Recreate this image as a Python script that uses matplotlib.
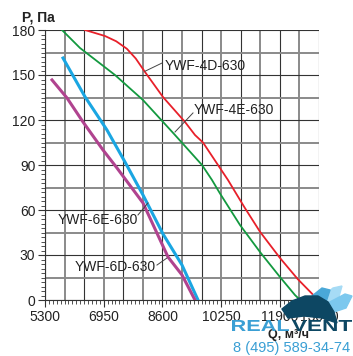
import numpy as np
import matplotlib.pyplot as plt
from matplotlib.patches import Polygon, PathPatch
from matplotlib.textpath import TextPath
from matplotlib.font_manager import FontProperties
from matplotlib.transforms import Affine2D

plt.rcParams['font.family'] = ['Liberation Sans', 'DejaVu Sans']

# Характеристики вентиляторів: Q (м3/ч) та P (Па)
q_4d = [6424, 6986, 7300, 7600, 7850, 8110, 8616, 9234, 9515, 9740, 10442, 10900, 11342, 11904, 12400, 12887, 13000]
p_4d = [180, 176, 172.5, 167.5, 161, 152, 135.3, 118.7, 110, 105, 80, 62, 45.5, 28, 14, 2.2, 0]

q_4e = [5778, 6284, 7267, 8054, 8953, 9712, 9993, 10218, 10780, 11342, 11904, 12325, 12470]
p_4e = [180, 168, 150, 133.3, 110, 90, 80, 71, 50, 32, 15.3, 3.3, 0]

q_6e = [5806, 6424, 7042, 7548, 8054, 8616, 9150, 9600]
p_6e = [161.3, 135.5, 113.3, 92, 70, 44, 23.3, 0]

q_6d = [5497, 5918, 6368, 6930, 7323, 8054, 8756, 9150, 9515]
p_6d = [146.7, 134.7, 118.7, 100, 88, 64.7, 28.7, 16.7, 0]

x_ticks = [5300, 6950, 8600, 10250, 11900, 13000]
y_ticks = [0, 30, 60, 90, 120, 150, 180]

fig = plt.figure(figsize=(3.53, 3.56), dpi=100)
ax = fig.add_axes([45/353, 56/356, 274/353, 270/356])
ax.set_xlim(5300, 13000)
ax.set_ylim(0, 180)

# сітка: через одну лінію сіра товща
for i, xv in enumerate(np.arange(5300, 13001, 550)):
    if i % 2:
        ax.axvline(xv, color='#8a8a8a', lw=1.4, zorder=1)
    else:
        ax.axvline(xv, color='#333333', lw=0.8, zorder=1)
for i, yv in enumerate(np.arange(0, 181, 15)):
    if i % 2:
        ax.axhline(yv, color='#8a8a8a', lw=1.4, zorder=1)
    else:
        ax.axhline(yv, color='#333333', lw=0.8, zorder=1)

ax.plot(q_4d, p_4d, color='#e8202a', lw=1.3, zorder=3)
ax.plot(q_4e, p_4e, color='#13993f', lw=1.3, zorder=3)
ax.plot(q_6e, p_6e, color='#1aa6e2', lw=2.2, zorder=3)
ax.plot(q_6d, p_6d, color='#b0438f', lw=2.2, zorder=3)

ax.set_xticks(x_ticks)
ax.set_yticks(y_ticks)
ax.set_xticks(np.arange(5300, 13001, 110), minor=True)
ax.set_yticks(np.arange(0, 181, 3), minor=True)
ax.tick_params(which='major', length=5, width=0.8, color='#333333', labelsize=10, labelcolor='#222222', pad=2)
ax.tick_params(which='minor', length=3, width=0.6, color='#333333')
for s in ['top', 'right']:
    ax.spines[s].set_visible(False)
for s in ['left', 'bottom']:
    ax.spines[s].set_color('#333333')
    ax.spines[s].set_linewidth(0.8)

# підписи кривих з виносками
lbl = dict(fontsize=10, color='#222222', va='center', zorder=5)
ax.text(8650, 156, 'YWF-4D-630', ha='left', **lbl)
ax.plot([8110, 8590], [152.5, 158], color='#444444', lw=0.7, zorder=4)
ax.text(9470, 127, 'YWF-4E-630', ha='left', **lbl)
ax.plot([9459, 8953], [124.7, 112], color='#444444', lw=0.7, zorder=4)
ax.text(6775, 53.3, 'YWF-6E-630', ha='center', **lbl)
ax.plot([7913, 8194], [56.7, 64.7], color='#444444', lw=0.7, zorder=4)
ax.text(7267, 22, 'YWF-6D-630', ha='center', **lbl)
ax.plot([8447, 8728], [23.3, 28], color='#444444', lw=0.7, zorder=4)

fig.text(22/353, 1 - 18/356, 'P, Па', fontsize=10, fontweight='bold', color='#222222', va='center')

# логотип малюємо на окремих осях у пікселях
lax = fig.add_axes([0, 0, 1, 1], facecolor='none')
lax.set_xlim(0, 353)
lax.set_ylim(356, 0)
lax.axis('off')

lax.text(289, 335, 'Q, м³/ч', fontsize=9, fontweight='bold', color='#222222',
         ha='center', va='center', zorder=1)

def fit_text(s, x0, x1, y0, y1, color):
    tp = TextPath((0, 0), s, size=10, prop=FontProperties(family='Liberation Sans', weight='bold'))
    bb = tp.get_extents()
    tr = Affine2D().translate(-bb.x0, -bb.y0).scale((x1 - x0) / bb.width, -(y1 - y0) / bb.height).translate(x0, y1)
    lax.add_patch(PathPatch(tr.transform_path(tp), color=color, lw=0, zorder=12))

lax.add_patch(Polygon([(321, 298), (333, 288), (342, 286), (338, 300), (330, 306)], color='#a6dbf5', zorder=10))
lax.add_patch(Polygon([(326, 304), (345, 294), (352, 296), (346, 308), (334, 312)], color='#7cc8ee', zorder=10))
lax.add_patch(Polygon([(312, 296), (322, 288), (330, 290), (326, 302)], color='#4aa8d8', zorder=10))
lax.add_patch(Polygon([(282, 309), (292, 301), (305, 296), (318, 296), (328, 302),
                       (334, 312), (337, 323), (322, 318), (304, 316), (288, 318)], color='#0d4763', zorder=11))
fit_text('REAL', 232, 289, 320, 331, '#3a9fd4')
fit_text('VENT', 292, 352, 320, 331, '#0d4763')
lax.text(292, 348, '8 (495) 589-34-74', fontsize=10.5, color='#3a9fd4',
         va='center', ha='center', zorder=12)

fig.savefig('out.png', dpi=100)
